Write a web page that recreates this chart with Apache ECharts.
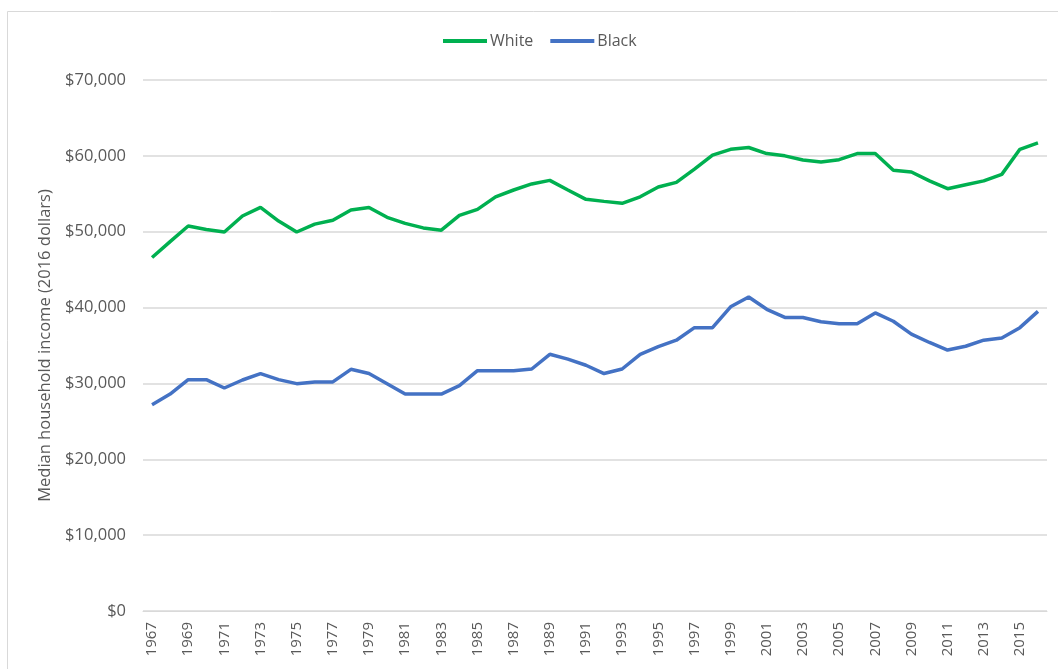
<!DOCTYPE html>
<html>
<head>
<meta charset="utf-8">
<script src="https://cdn.jsdelivr.net/npm/echarts@6/dist/echarts.min.js"></script>
<style>
html,body{margin:0;padding:0;background:#fff;}
#chart{width:1058px;height:669px;}
</style>
</head>
<body>
<div id="chart"></div>
<script>
const years = [];
for (let y = 1967; y <= 2016; y++) years.push(String(y));

const white = [
  46600, 48700, 50750, 50300, 49960, 52070, 53200, 51400, 49960, 51000,
  51500, 52860, 53200, 51900, 51100, 50500, 50200, 52160, 52950, 54600,
  55500, 56300, 56770, 55500, 54270, 54000, 53740, 54600, 55900, 56500,
  58260, 60100, 60860, 61100, 60300, 60000, 59450, 59200, 59500, 60300,
  60300, 58100, 57870, 56700, 55670, 56200, 56700, 57560, 60860, 61700
];
const black = [
  27200, 28600, 30500, 30500, 29400, 30450, 31300, 30500, 29970, 30200,
  30200, 31860, 31300, 29970, 28600, 28600, 28600, 29700, 31680, 31680,
  31680, 31900, 33840, 33200, 32400, 31300, 31900, 33840, 34850, 35700,
  37350, 37350, 40100, 41400, 39770, 38700, 38700, 38140, 37880, 37880,
  39300, 38200, 36500, 35400, 34400, 34900, 35700, 36000, 37350, 39500
];

const FONT = '"Open Sans", "Liberation Sans", sans-serif';
const TXT = '#595959';

const chart = echarts.init(document.getElementById('chart'), null, {renderer: 'canvas'});
chart.setOption({
  animation: false,
  backgroundColor: '#fff',
  graphic: [{
    type: 'rect',
    shape: {x: 7.5, y: 11.5, width: 1100, height: 700},
    style: {fill: 'none', stroke: '#D9D9D9', lineWidth: 1},
    silent: true
  }],
  legend: {
    top: 33,
    left: 443,
    padding: 0,
    itemWidth: 44,
    itemHeight: 4,
    itemGap: 17,
    icon: 'rect',
    textStyle: {fontFamily: FONT, fontSize: 16, color: TXT, padding: [0, 0, 0, -2]},
    data: ['White', 'Black']
  },
  grid: {left: 143, right: 11, top: 80, bottom: 58, containLabel: false},
  xAxis: {
    type: 'category',
    data: years,
    boundaryGap: true,
    axisLine: {lineStyle: {color: '#D9D9D9', width: 1}},
    axisTick: {show: false},
    axisLabel: {
      interval: 1,
      rotate: 90,
      margin: 11,
      fontFamily: FONT,
      fontSize: 15,
      color: TXT
    }
  },
  yAxis: {
    type: 'value',
    min: 0,
    max: 70000,
    interval: 10000,
    name: 'Median household income (2016 dollars)',
    nameLocation: 'middle',
    nameGap: 87,
    nameTextStyle: {fontFamily: FONT, fontSize: 16.5, color: TXT},
    axisLine: {show: false},
    axisTick: {show: false},
    splitLine: {lineStyle: {color: '#D9D9D9', width: 1.5}},
    axisLabel: {
      margin: 17,
      fontFamily: FONT,
      fontSize: 16.5,
      color: TXT,
      formatter: v => '$' + v.toLocaleString('en-US')
    }
  },
  series: [
    {
      name: 'White', type: 'line', data: white,
      symbol: 'none',
      lineStyle: {color: '#00B050', width: 3.5},
      itemStyle: {color: '#00B050'}
    },
    {
      name: 'Black', type: 'line', data: black,
      symbol: 'none',
      lineStyle: {color: '#4472C4', width: 3.5},
      itemStyle: {color: '#4472C4'}
    }
  ]
});
</script>
</body>
</html>
